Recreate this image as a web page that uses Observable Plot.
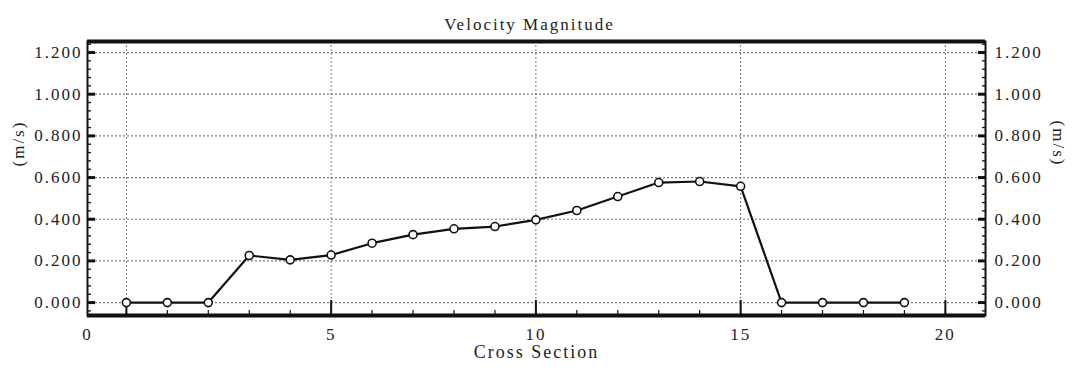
<!DOCTYPE html>
<html>
<head>
<meta charset="utf-8">
<script src="https://cdn.jsdelivr.net/npm/d3@7"></script>
<script src="https://cdn.jsdelivr.net/npm/@observablehq/plot@0.6"></script>
<style>
  body { margin: 0; background: #fff; }
  #chart svg, #chart svg text { font-family: "Liberation Serif", "DejaVu Serif", serif !important; letter-spacing: 2px; }
</style>
</head>
<body>
<div id="chart"></div>
<script>
// ---- data ----
const title = "Velocity Magnitude";
const xLabel = "Cross Section";
const yLabel = "(m/s)";
const crossSection = [0, 1, 2, 3, 4, 5, 6, 7, 8, 9, 10, 11, 12, 13, 14, 15, 16, 17, 18, 19];
const velocity = [0, 0, 0, 0.226, 0.205, 0.228, 0.285, 0.326, 0.354, 0.365, 0.397, 0.442, 0.509, 0.576, 0.581, 0.558, 0, 0, 0, 0];
const xDomain = [-0.95, 20.98];
const yDomain = [-0.062, 1.253];
const xMajor = [0, 5, 10, 15, 20];
const xTickLabels = ["0", "5", "10", "15", "20"];
const yMajor = [0, 0.2, 0.4, 0.6, 0.8, 1.0, 1.2];
const yMinor = d3.range(-0.04, 1.25, 0.04);
const xMinor = d3.range(0, 21, 1);

const data = crossSection.map((x, i) => ({x, y: velocity[i]}));
const xLabelTicks = [xDomain[0], 5, 10, 15, 20];

const font = "Liberation Serif";
const ink = "#222";

const chart = Plot.plot({
  width: 1072,
  height: 370,
  marginLeft: 87,
  marginRight: 87,
  marginTop: 41,
  marginBottom: 55,
  style: {fontFamily: font, fontSize: "16px", color: ink, background: "#fff"},
  x: {domain: xDomain, label: null},
  y: {domain: yDomain, label: null},
  marks: [
    // grid
    Plot.gridY({ticks: yMajor, stroke: "#444", strokeOpacity: 0.7, strokeDasharray: "2,2", strokeWidth: 1.2}),
    Plot.gridX({ticks: xMajor, stroke: "#444", strokeOpacity: 0.7, strokeDasharray: "2,2", strokeWidth: 1}),
    // left axis ticks (inward)
    Plot.axisY({anchor: "left", ticks: yMinor, tickSize: -4, text: null, label: null, stroke: "#111", strokeWidth: 1.3}),
    Plot.axisY({anchor: "left", ticks: yMajor, tickSize: -8, text: null, label: null, stroke: "#111", strokeWidth: 3}),
    Plot.axisY({anchor: "left", ticks: yMajor, tickSize: 0, tickPadding: 5, tickFormat: d3.format(".3f"), label: null, fill: ink, fontSize: 17, fontFamily: font}),
    // right axis ticks (inward)
    Plot.axisY({anchor: "right", ticks: yMinor, tickSize: -4, text: null, label: null, stroke: "#111", strokeWidth: 1.3}),
    Plot.axisY({anchor: "right", ticks: yMajor, tickSize: -8, text: null, label: null, stroke: "#111", strokeWidth: 3}),
    Plot.axisY({anchor: "right", ticks: yMajor, tickSize: 0, tickPadding: 9, tickFormat: d3.format(".3f"), label: null, fill: ink, fontSize: 17, fontFamily: font}),
    // bottom axis ticks (inward)
    Plot.axisX({anchor: "bottom", ticks: xMinor, tickSize: -5, text: null, label: null, stroke: "#111", strokeWidth: 1.2}),
    Plot.axisX({anchor: "bottom", ticks: xMajor, tickSize: -15, text: null, label: null, stroke: "#111", strokeWidth: 2}),
    Plot.axisX({anchor: "bottom", ticks: xLabelTicks, tickSize: 0, tickPadding: 12, tickFormat: (d, i) => xTickLabels[i], label: null, fill: ink, fontSize: 17, fontFamily: font}),
    // frame
    Plot.frame({stroke: "#111", strokeWidth: 2}),
    Plot.ruleY([yDomain[0], yDomain[1]], {stroke: "#111", strokeWidth: 4}),
    // data
    Plot.line(data, {x: "x", y: "y", stroke: "#111", strokeWidth: 2.2}),
    Plot.dot(data, {x: "x", y: "y", r: 4, fill: "white", stroke: "#111", strokeWidth: 1.6}),
    // labels
    Plot.text([title], {frameAnchor: "top", dy: -24, dx: -7, fontSize: 17, fill: ink, fontFamily: font}),
    Plot.text([xLabel], {frameAnchor: "bottom", dy: 42, fontSize: 18, fill: ink, fontFamily: font}),
    Plot.text([yLabel], {frameAnchor: "left", dx: -69, dy: -12, rotate: -90, fontSize: 17, fill: ink, fontFamily: font}),
    Plot.text([yLabel], {frameAnchor: "right", dx: 73, dy: -12, rotate: 90, fontSize: 17, fill: ink, fontFamily: font})
  ]
});
document.getElementById("chart").appendChild(chart);
</script>
</body>
</html>
